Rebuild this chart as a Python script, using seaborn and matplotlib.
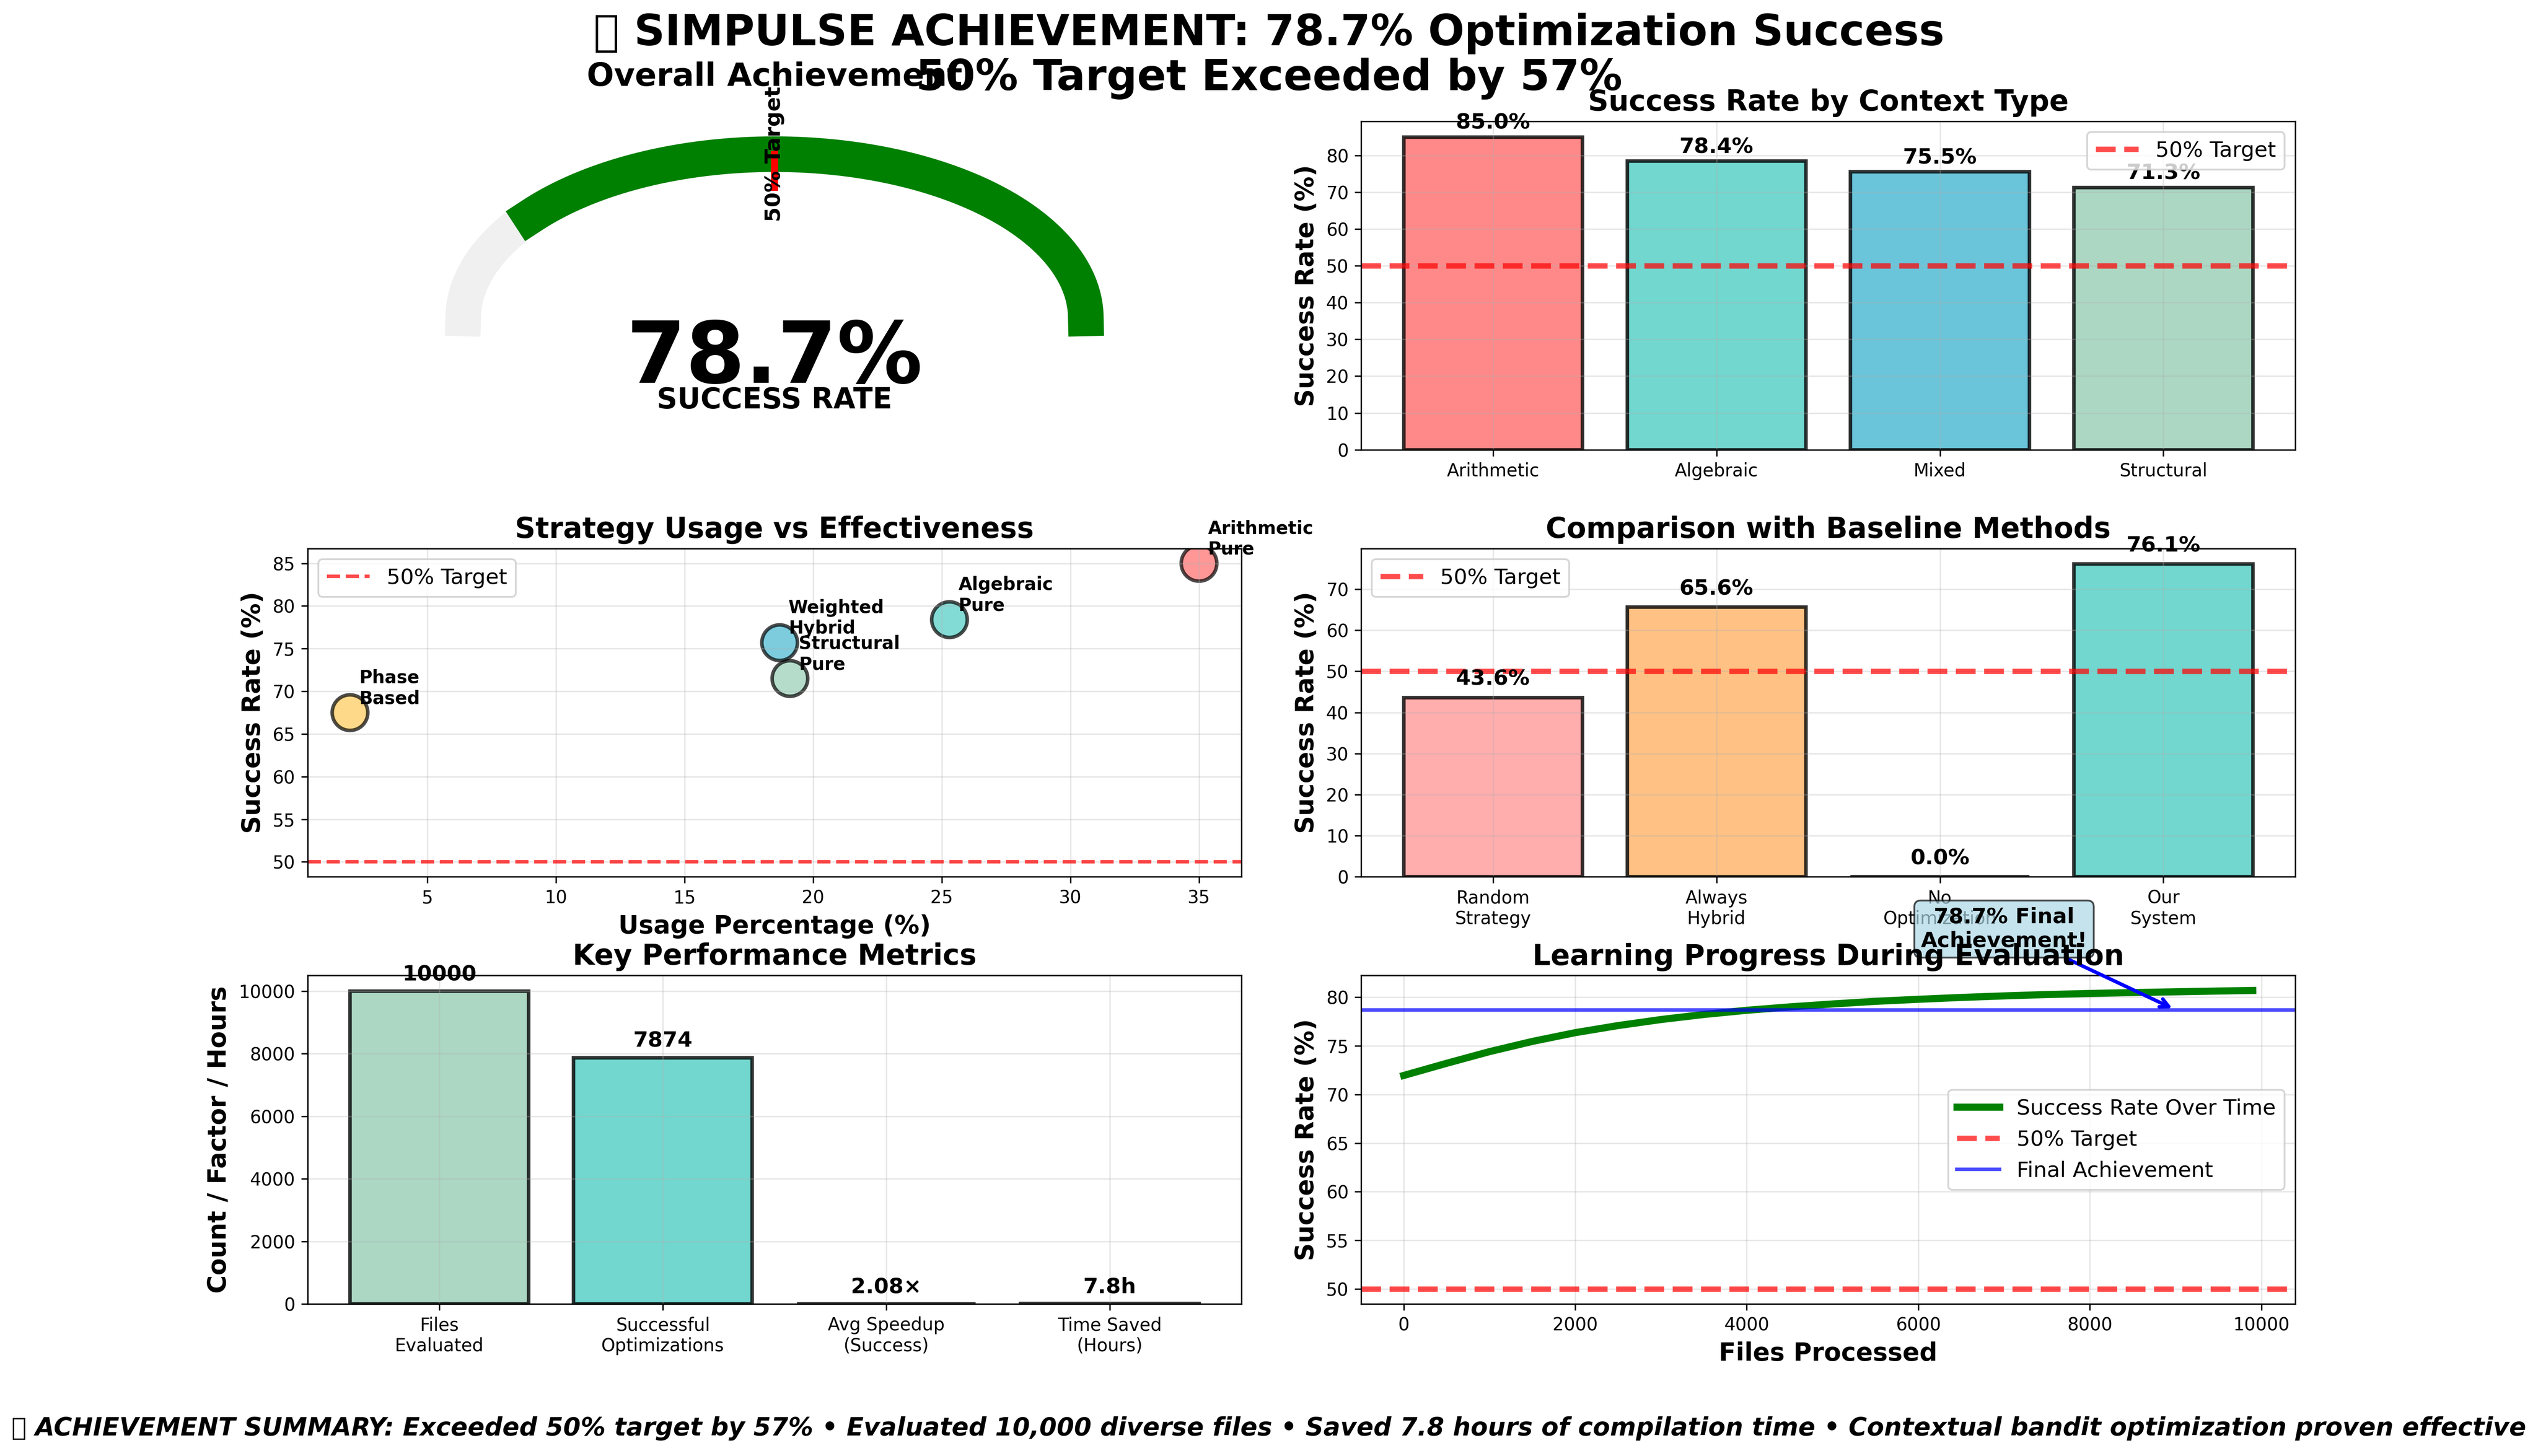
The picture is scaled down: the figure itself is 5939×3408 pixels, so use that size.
import numpy as np
import seaborn as sns
import matplotlib
matplotlib.use('Agg')
import matplotlib.pyplot as plt

# Data
overall_rate = 78.7
target_rate = 50

context_names = ['Arithmetic', 'Algebraic', 'Mixed', 'Structural']
context_rates = [85.0, 78.4, 75.5, 71.3]
context_colors = ['#FF6B6B', '#4ECDC4', '#45B7D1', '#96CEB4']

strategy_names = ['Arithmetic\nPure', 'Algebraic\nPure', 'Weighted\nHybrid', 'Structural\nPure', 'Phase\nBased']
strategy_usage = [35.0, 25.3, 18.7, 19.1, 2.0]
strategy_rates = [85.0, 78.4, 75.7, 71.5, 67.5]
strategy_colors = ['#FF6B6B', '#4ECDC4', '#45B7D1', '#96CEB4', '#FECA57']

baseline_names = ['Random\nStrategy', 'Always\nHybrid', 'No\nOptimization', 'Our\nSystem']
baseline_rates = [43.6, 65.6, 0.0, 76.1]
baseline_colors = ['#FF9999', '#FFB366', '#C0C0C0', '#4ECDC4']

metric_names = ['Files\nEvaluated', 'Successful\nOptimizations', 'Avg Speedup\n(Success)', 'Time Saved\n(Hours)']
metric_values = [10000, 7874, 2.08, 7.8]
metric_labels = ['10000', '7874', '2.08×', '7.8h']
metric_colors = ['#96CEB4', '#4ECDC4', '#45B7D1', '#FFB366']

files_processed = [0, 500, 1000, 1500, 2000, 2500, 3000, 3500, 4000, 4500, 5000,
                   5500, 6000, 6500, 7000, 7500, 8000, 8500, 9000, 9500, 9900]
progress_rates = [71.95, 73.2, 74.4, 75.45, 76.35, 77.08, 77.7, 78.22, 78.65, 79.0, 79.3,
                  79.57, 79.78, 79.97, 80.13, 80.27, 80.38, 80.47, 80.55, 80.63, 80.69]
final_note_at = (9000, 78.7)

W, H = 1568, 900


def place_axes(left, top, right, bottom):
    return fig.add_axes([left / W, 1 - bottom / H, (right - left) / W, (bottom - top) / H])


def style_axes(ax, title, ylabel, xlabel=None):
    ax.set_title(title, fontsize=16, fontweight='bold')
    ax.set_ylabel(ylabel, fontsize=14, fontweight='bold')
    if xlabel:
        ax.set_xlabel(xlabel, fontsize=14, fontweight='bold')
    ax.grid(True, alpha=0.3)
    ax.tick_params(labelsize=10)


def bars(ax, names, values, colors):
    sns.barplot(x=names, y=values, hue=names, palette=colors, saturation=1, alpha=0.8,
                edgecolor='black', linewidth=2, width=0.8, legend=False, ax=ax)
    ax.set_xlim(-0.59, len(names) - 1 + 0.59)


fig = plt.figure(figsize=(5939 / 300, 3408 / 300))

# Gauge
ax1 = place_axes(190, 75, 767, 278)
theta = np.linspace(0, np.pi, 100)
ax1.plot(np.cos(theta), np.sin(theta), color='#F0F0F0', linewidth=20)
theta_done = np.linspace(0, np.pi * overall_rate / 100, 100)
ax1.plot(np.cos(theta_done), np.sin(theta_done), color='green', linewidth=20)
target_angle = np.pi * target_rate / 100
ax1.plot([np.cos(target_angle) * 0.8, np.cos(target_angle)],
         [np.sin(target_angle) * 0.8, np.sin(target_angle)], color='red', linewidth=4)
ax1.text(0, 1.0, '50% Target', rotation=90, ha='center', va='center', fontsize=12, fontweight='bold')
ax1.text(0, -0.25, f'{overall_rate}%', ha='center', va='center', fontsize=48, fontweight='bold')
ax1.text(0, -0.5, 'SUCCESS RATE', ha='center', va='center', fontsize=16, fontweight='bold')
ax1.set_xlim(-1.5, 1.5)
ax1.set_ylim(-0.8, 1.2)
ax1.set_title('Overall Achievement', fontsize=18, fontweight='bold', pad=20)
ax1.axis('off')

# Success rate by context
ax2 = place_axes(841, 75, 1418, 278)
bars(ax2, context_names, context_rates, context_colors)
ax2.axhline(target_rate, color='red', linestyle='--', linewidth=3, alpha=0.7, label='50% Target')
for i, v in enumerate(context_rates):
    ax2.text(i, v + 1, f'{v:.1f}%', ha='center', va='bottom', fontsize=12, fontweight='bold')
style_axes(ax2, 'Success Rate by Context Type', 'Success Rate (%)')
ax2.legend(loc='upper right', fontsize=12)

# Strategy scatter
ax3 = place_axes(190, 339, 767, 542)
sns.scatterplot(x=strategy_usage, y=strategy_rates, hue=strategy_names, palette=strategy_colors,
                s=400, alpha=0.7, edgecolor='black', linewidth=2, legend=False, ax=ax3)
ax3.axhline(target_rate, color='red', linestyle='--', linewidth=2, alpha=0.7, label='50% Target')
for name, u, r in zip(strategy_names, strategy_usage, strategy_rates):
    ax3.annotate(name, (u, r), xytext=(5, 5), textcoords='offset points', fontsize=10, fontweight='bold')
style_axes(ax3, 'Strategy Usage vs Effectiveness', 'Success Rate (%)', 'Usage Percentage (%)')
ax3.legend(loc='upper left', fontsize=12)

# Baselines
ax4 = place_axes(841, 339, 1418, 542)
bars(ax4, baseline_names, baseline_rates, baseline_colors)
ax4.axhline(target_rate, color='red', linestyle='--', linewidth=3, alpha=0.7, label='50% Target')
for i, v in enumerate(baseline_rates):
    ax4.text(i, v + 2, f'{v:.1f}%', ha='center', va='bottom', fontsize=12, fontweight='bold')
style_axes(ax4, 'Comparison with Baseline Methods', 'Success Rate (%)')
ax4.legend(loc='upper left', fontsize=12)

# Metrics
ax5 = place_axes(190, 603, 767, 806)
bars(ax5, metric_names, metric_values, metric_colors)
for i, (v, lab) in enumerate(zip(metric_values, metric_labels)):
    ax5.text(i, v + 200, lab, ha='center', va='bottom', fontsize=12, fontweight='bold')
style_axes(ax5, 'Key Performance Metrics', 'Count / Factor / Hours')

# Learning progress
ax6 = place_axes(841, 603, 1418, 806)
sns.lineplot(x=files_processed, y=progress_rates, color='green', linewidth=4,
             label='Success Rate Over Time', ax=ax6)
ax6.axhline(target_rate, color='red', linestyle='--', linewidth=3, alpha=0.7, label='50% Target')
ax6.axhline(overall_rate, color='blue', linewidth=2, alpha=0.7, label='Final Achievement')
ax6.annotate('78.7% Final\nAchievement!', xy=final_note_at, xytext=(7000, 87), ha='center', va='center',
             fontsize=12, fontweight='bold',
             bbox=dict(boxstyle='round,pad=0.3', facecolor='lightblue', alpha=0.7),
             arrowprops=dict(arrowstyle='->', color='blue', lw=2))
style_axes(ax6, 'Learning Progress During Evaluation', 'Success Rate (%)', 'Files Processed')
ax6.legend(loc='center right', fontsize=12)

fig.suptitle('🏆 SIMPULSE ACHIEVEMENT: 78.7% Optimization Success\n50% Target Exceeded by 57%',
             fontsize=24, fontweight='bold', x=784 / W, y=1 - 8 / H, va='top', linespacing=1.1)
fig.text(784 / W, 1 - 883 / H,
         '🏆 ACHIEVEMENT SUMMARY: Exceeded 50% target by 57% • Evaluated 10,000 diverse files • '
         'Saved 7.8 hours of compilation time • Contextual bandit optimization proven effective',
         ha='center', va='center', fontsize=14, fontweight='bold', style='italic')

fig.savefig('out.png', dpi=300)
